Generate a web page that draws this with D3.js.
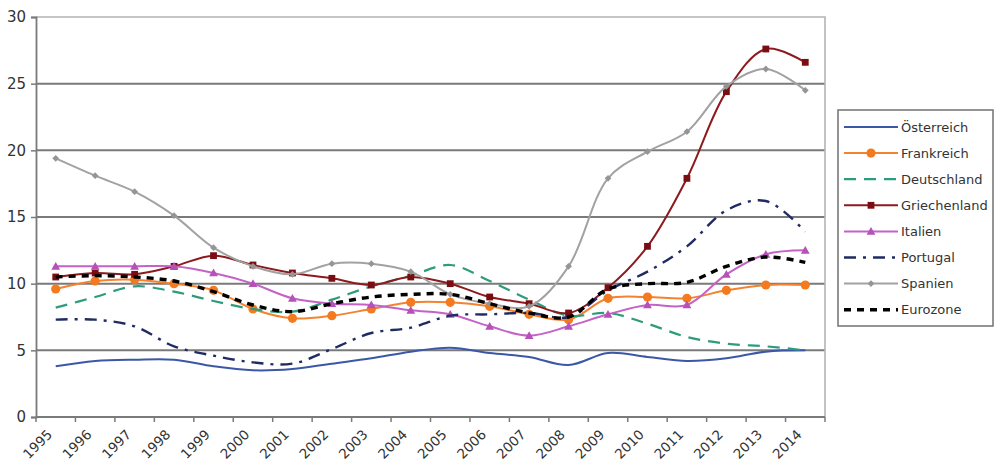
<!DOCTYPE html>
<html>
<head>
<meta charset="utf-8">
<script src="https://cdn.jsdelivr.net/npm/d3@7"></script>
<style>
  html, body { margin: 0; padding: 0; background: #fff; }
  svg { display: block; }
  text { font-family: "DejaVu Sans", Arial, sans-serif; fill: #333; }
</style>
</head>
<body>
<svg id="chart" width="997" height="466"></svg>
<script>
// Arbeitslosenquote in %, 1995–2014
const years = ["1995","1996","1997","1998","1999","2000","2001","2002","2003","2004",
               "2005","2006","2007","2008","2009","2010","2011","2012","2013","2014"];
const yTicks = [0, 5, 10, 15, 20, 25, 30];

const oesterreich  = [3.8, 4.2, 4.3, 4.3, 3.8, 3.5, 3.6, 4.0, 4.4, 4.9, 5.2, 4.8, 4.5, 3.9, 4.8, 4.5, 4.2, 4.4, 4.9, 5.0];
const frankreich   = [9.6, 10.2, 10.3, 10.0, 9.5, 8.1, 7.4, 7.6, 8.1, 8.6, 8.6, 8.3, 7.7, 7.3, 8.9, 9.0, 8.9, 9.5, 9.9, 9.9];
const deutschland  = [8.2, 9.0, 9.8, 9.4, 8.7, 8.1, 7.9, 8.8, 9.8, 10.6, 11.4, 10.2, 8.8, 7.6, 7.8, 7.0, 6.0, 5.5, 5.3, 5.0];
const griechenland = [10.5, 10.8, 10.7, 11.3, 12.1, 11.4, 10.8, 10.4, 9.9, 10.5, 10.0, 9.0, 8.5, 7.8, 9.7, 12.8, 17.9, 24.4, 27.6, 26.6];
const italien      = [11.3, 11.3, 11.3, 11.3, 10.8, 10.0, 8.9, 8.5, 8.4, 8.0, 7.7, 6.8, 6.1, 6.8, 7.7, 8.4, 8.4, 10.7, 12.2, 12.5];
const portugal     = [7.3, 7.3, 6.8, 5.3, 4.6, 4.1, 4.0, 5.1, 6.3, 6.7, 7.6, 7.7, 7.8, 7.5, 9.5, 10.9, 12.8, 15.5, 16.2, 13.9];
const spanien      = [19.4, 18.1, 16.9, 15.1, 12.7, 11.3, 10.7, 11.5, 11.5, 10.9, 9.2, 8.5, 8.3, 11.3, 17.9, 19.9, 21.4, 24.8, 26.1, 24.5];
const eurozone     = [10.5, 10.6, 10.5, 10.2, 9.4, 8.4, 7.9, 8.5, 9.0, 9.2, 9.2, 8.5, 7.8, 7.5, 9.6, 10.0, 10.1, 11.3, 12.0, 11.6];

const seriesNames = ["Österreich", "Frankreich", "Deutschland", "Griechenland", "Italien", "Portugal", "Spanien", "Eurozone"];
const seriesValues = [oesterreich, frankreich, deutschland, griechenland, italien, portugal, spanien, eurozone];

// Linienstil je Reihe
const styles = {
  "Österreich":   { color: "#3b58a8", width: 2,   dash: null,          marker: null },
  "Frankreich":   { color: "#f5822f", width: 2,   dash: null,          marker: "circle",   mfill: "#f47a20", msize: 4.6 },
  "Deutschland":  { color: "#2e9c7c", width: 2.2, dash: "12,8",        marker: null },
  "Griechenland": { color: "#8c1a1e", width: 2,   dash: null,          marker: "square",   mfill: "#7a0d14", msize: 3.4 },
  "Italien":      { color: "#c462c6", width: 2,   dash: null,          marker: "triangle", mfill: "#b551b8", msize: 4.4 },
  "Portugal":     { color: "#1f2b62", width: 2.4, dash: "12,7,3,7",    marker: null },
  "Spanien":      { color: "#a2a2a2", width: 2,   dash: null,          marker: "diamond",  mfill: "#959595", msize: 3.4 },
  "Eurozone":     { color: "#000000", width: 3.4, dash: "7,6",         marker: null }
};

const svg = d3.select("#chart");
const plot = { left: 36, right: 825, top: 17, bottom: 417 };

const x = d3.scaleBand().domain(years).range([plot.left, plot.right]).paddingInner(0).paddingOuter(0);
const xc = d => x(d) + x.bandwidth() / 2;
const y = d3.scaleLinear().domain([0, 30]).range([plot.bottom, plot.top]);

// Gitternetz
svg.append("g").selectAll("line")
  .data(yTicks.filter(t => t > 0 && t < 30))
  .join("line")
  .attr("x1", plot.left).attr("x2", plot.right)
  .attr("y1", d => y(d)).attr("y2", d => y(d))
  .attr("stroke", "#7a7a7a").attr("stroke-width", 2);

// Rahmen oben und rechts
svg.append("path")
  .attr("d", `M${plot.left},${y(30)}H${plot.right}V${plot.bottom}`)
  .attr("fill", "none").attr("stroke", "#b4b4b4").attr("stroke-width", 1.6);

// y-Achse
const yAxis = svg.append("g")
  .attr("transform", `translate(${plot.left},0)`)
  .call(d3.axisLeft(y).tickValues(yTicks).tickSize(5).tickPadding(5));
yAxis.select(".domain").attr("stroke", "#7a7a7a").attr("stroke-width", 1.8);
yAxis.selectAll(".tick line").attr("stroke", "#7a7a7a").attr("stroke-width", 1.5);
yAxis.selectAll(".tick text")
  .style("font-family", "DejaVu Sans, Arial, sans-serif")
  .style("font-size", "15px").attr("fill", "#333");

// x-Achse mit Teilstrichen an den Kategoriegrenzen
const xAxis = svg.append("g");
xAxis.append("line")
  .attr("x1", plot.left).attr("x2", plot.right)
  .attr("y1", plot.bottom).attr("y2", plot.bottom)
  .attr("stroke", "#7a7a7a").attr("stroke-width", 1.8);
const edges = years.map(d => x(d)).concat([x.range()[1]]);
xAxis.selectAll("line.tk").data(edges).join("line").attr("class", "tk")
  .attr("x1", d => d).attr("x2", d => d)
  .attr("y1", plot.bottom).attr("y2", plot.bottom + 5)
  .attr("stroke", "#7a7a7a").attr("stroke-width", 1.5);
xAxis.selectAll("text").data(years).join("text")
  .attr("transform", d => `translate(${xc(d) - 6},${plot.bottom + 15}) rotate(-45)`)
  .attr("text-anchor", "end")
  .attr("dy", "0.35em")
  .style("font-size", "13.5px")
  .text(d => d);

// Datenreihen
const line = d3.line()
  .x((d, i) => xc(years[i]))
  .y(d => y(d))
  .curve(d3.curveCatmullRom.alpha(0.5));

function drawMarker(g, type, size, fill) {
  if (type === "circle") {
    g.append("circle").attr("r", size).attr("fill", fill);
  } else if (type === "square") {
    g.append("rect").attr("x", -size).attr("y", -size)
      .attr("width", size * 2).attr("height", size * 2).attr("fill", fill);
  } else if (type === "triangle") {
    g.append("path").attr("d", `M0,${-size}L${size},${size * 0.75}L${-size},${size * 0.75}Z`).attr("fill", fill);
  } else if (type === "diamond") {
    g.append("path").attr("d", `M0,${-size}L${size},0L0,${size}L${-size},0Z`).attr("fill", fill);
  }
}

const seriesG = svg.append("g");
seriesNames.forEach((name, si) => {
  const st = styles[name];
  const vals = seriesValues[si];
  const g = seriesG.append("g");
  g.append("path")
    .datum(vals)
    .attr("d", line)
    .attr("fill", "none")
    .attr("stroke", st.color)
    .attr("stroke-width", st.width)
    .attr("stroke-dasharray", st.dash)
    .attr("stroke-linejoin", "round");
  if (st.marker) {
    vals.forEach((v, i) => {
      const mg = g.append("g").attr("transform", `translate(${xc(years[i])},${y(v)})`);
      drawMarker(mg, st.marker, st.msize, st.mfill);
    });
  }
});

// Legende
const legend = svg.append("g");
legend.append("rect")
  .attr("x", 838).attr("y", 110).attr("width", 155).attr("height", 216)
  .attr("fill", "#fff").attr("stroke", "#7a7a7a").attr("stroke-width", 1.6);
seriesNames.forEach((name, i) => {
  const st = styles[name];
  const ly = 127 + i * 26.1;
  const lg = legend.append("g");
  lg.append("line")
    .attr("x1", 844).attr("x2", 898).attr("y1", ly).attr("y2", ly)
    .attr("stroke", st.color).attr("stroke-width", st.width)
    .attr("stroke-dasharray", st.dash);
  if (st.marker) {
    const mg = lg.append("g").attr("transform", `translate(871,${ly})`);
    drawMarker(mg, st.marker, st.msize, st.mfill);
  }
  lg.append("text")
    .attr("x", 901).attr("y", ly).attr("dy", "0.36em")
    .style("font-size", "13px")
    .text(name);
});
</script>
</body>
</html>
